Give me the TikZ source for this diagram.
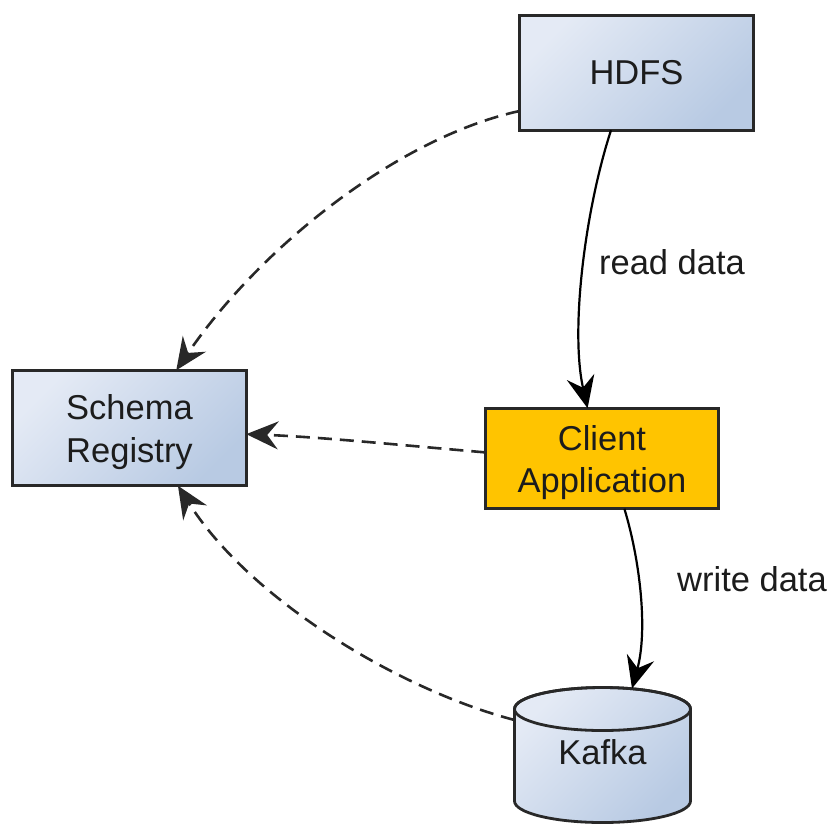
\documentclass[tikz,border=0pt]{standalone}
\usepackage{fontspec}
\setmainfont{Liberation Sans}
\usetikzlibrary{arrows.meta,calc}
\definecolor{bluelt}{RGB}{228,234,245}
\definecolor{bluedk}{RGB}{184,202,227}
\definecolor{gold}{RGB}{255,196,0}
\definecolor{edge}{RGB}{40,40,40}
\definecolor{ink}{RGB}{28,28,28}
\begin{document}
\begin{tikzpicture}[x=1pt,y=-1pt,
  txt/.style={text=ink, font=\fontsize{34.5}{42.5}\selectfont},
  box/.style={draw=edge, line width=2.8pt, inner sep=0pt, outer sep=0pt},
  bluebox/.style={box, left color=bluelt, right color=bluedk, shading angle=45},
  goldbox/.style={box, fill=gold},
  inside/.style={label={[txt, align=center, yshift=-4pt]center:#1}},
  tip/.style={-{Stealth[length=32pt,width=28pt,inset=11pt]}},
  flow/.style={tip, draw=black, line width=2.2pt},
  ref/.style={tip, draw=edge, line width=2.6pt, dash pattern=on 14pt off 8pt}
]
\useasboundingbox (0,0) rectangle (829,823);

% boxes
\node[bluebox, txt, minimum width=234pt, minimum height=114.5pt] (hdfs) at (636.5,73) {HDFS};
\node[bluebox, minimum width=233.5pt, minimum height=115.5pt, inside={Schema\\Registry}] (schema) at (129.5,428) {};
\node[goldbox, minimum width=233.5pt, minimum height=100.5pt, inside={Client\\Application}] (client) at (602,458.5) {};

% Kafka cylinder
\path[draw=edge, line width=2.8pt, left color=bluelt, right color=bluedk, shading angle=45]
  (514.5,709) -- (514.5,801) arc[start angle=180, end angle=0, x radius=88, y radius=21.5]
  -- (690.5,709) arc[start angle=0, end angle=-180, x radius=88, y radius=21.5] -- cycle;
\draw[edge, line width=2.8pt] (602.5,709) ellipse[x radius=88, y radius=21.5];
\node[txt] (kafka) at (602.5,752) {Kafka};
\coordinate (kftop) at (632,688.5);
\coordinate (kfleft) at (514.5,720);

% connectors
\draw[flow] (hdfs.-114.5) .. controls (585,210) and (570,330) .. (client.106);
\draw[flow] (client.-66) .. controls (640,560) and (648,630) .. (kftop);
\draw[ref] (hdfs.-162) .. controls (400,137) and (262,245) .. (schema.51);
\draw[ref] (client.177) .. controls (400,445) and (320,437) .. (schema.-3.4);
\draw[ref] (kfleft) .. controls (400,690) and (250,600) .. (schema.-50);

% labels
\node[txt] (lblread) at (672,262.5) {read data};
\node[txt] (lblwrite) at (752,579) {write data};
\end{tikzpicture}
\end{document}
